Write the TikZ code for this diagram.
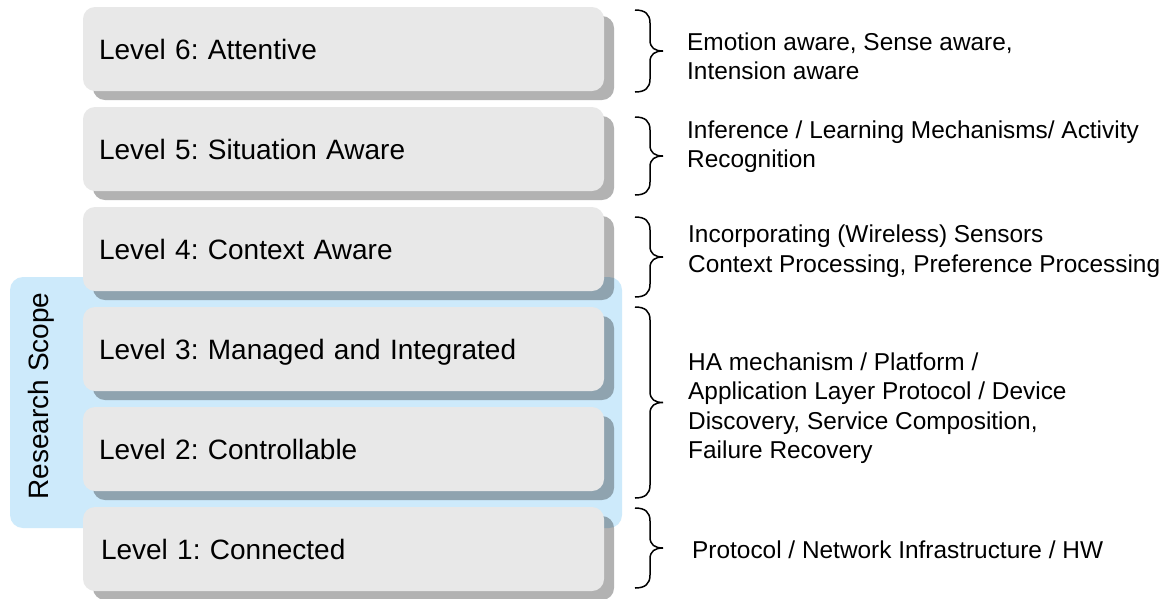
\documentclass[tikz,border=0pt]{standalone}
\usepackage{fontspec}
\setmainfont{Liberation Sans}
\usetikzlibrary{shadows}
\definecolor{scopeblue}{RGB}{205,234,251}
\definecolor{boxgray}{RGB}{232,232,232}
\frenchspacing
\tikzset{
  levelbox/.style={rounded corners=12pt, fill=boxgray,
    minimum width=521pt, minimum height=84pt, text width=489pt,
    inner xsep=16pt, inner ysep=0pt, align=left,
    text height=20pt, text depth=0pt,
    font=\fontsize{28}{33}\selectfont,
    drop shadow={shadow xshift=10pt, shadow yshift=-9pt, fill=black, opacity=0.3}},
  scopebox/.style={fill=scopeblue, rounded corners=13pt, inner sep=0pt,
    minimum width=612pt, minimum height=251pt},
  desc/.style={anchor=north west, inner sep=0pt, align=left,
    font=\fontsize{24.4}{29.5}\selectfont},
  bracestroke/.style={draw=black, line width=1.5pt},
  pics/curly/.style 2 args={code={
    \pgfmathsetmacro\ym{(#1+#2)/2}
    \draw[bracestroke] (635,#1) .. controls (645,#1) and (650,#1+4) .. (650,#1+13)
      -- (650,\ym-11) .. controls (650,\ym-3) and (655,\ym) .. (663,\ym)
      .. controls (655,\ym) and (650,\ym+3) .. (650,\ym+11)
      -- (650,#2-13) .. controls (650,#2-4) and (645,#2) .. (635,#2);
  }}
}
\begin{document}
\begin{tikzpicture}[x=1pt,y=-1pt]
\useasboundingbox (0,0) rectangle (1174,598);
\fill[white] (0,0) rectangle (1174,598);

% research scope band behind levels 2 and 3
\node[scopebox] (scope) at (316,402.5) {};
\node[rotate=90, anchor=base, inner sep=0pt, font=\fontsize{28}{33}\selectfont]
  (scopelabel) at (48,396) {Research Scope};

% the six levels
\node[levelbox] (L6) at (343.5,49)  {Level 6: Attentive};
\node[levelbox] (L5) at (343.5,149) {Level 5: Situation Aware};
\node[levelbox] (L4) at (343.5,249) {Level 4: Context Aware};
\node[levelbox] (L3) at (343.5,349) {Level 3: Managed and Integrated};
\node[levelbox] (L2) at (343.5,449) {Level 2: Controllable};
\node[levelbox] (L1) at (343.5,549) {\hspace*{2pt}Level 1: Connected};

% braces
\pic {curly={10}{92}};
\pic {curly={117}{195}};
\pic {curly={217}{297}};
\pic {curly={307}{498}};
\pic {curly={508}{588}};

% descriptions
\node[desc] (D6) at (687,29.35) {\strut Emotion aware, Sense aware,\\Intension aware};
\node[desc] (D5) at (687,117.35) {\strut Inference / Learning Mechanisms/ Activity\\Recognition};
\node[desc] (D4) at (688,221.85) {\strut Incorporating (Wireless) Sensors\\Context Processing, Preference Processing};
\node[desc] (D3) at (688,349.35) {\strut HA mechanism / Platform /\\Application Layer Protocol / Device\\Discovery, Service Composition,\\Failure Recovery};
\node[desc] (D1) at (692,537.35) {\strut Protocol / Network Infrastructure / HW};
\end{tikzpicture}
\end{document}
